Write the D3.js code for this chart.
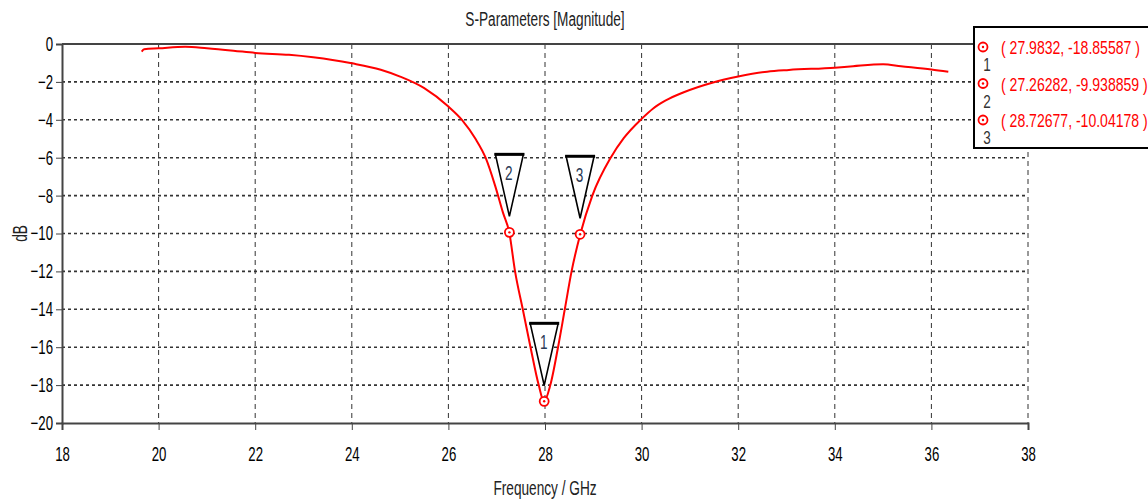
<!DOCTYPE html>
<html>
<head>
<meta charset="utf-8">
<script src="https://cdn.jsdelivr.net/npm/d3@7"></script>
<style>
  body { margin: 0; background: #fff; }
  svg { display: block; font-family: "Liberation Sans", Arial, sans-serif; }
</style>
</head>
<body>
<div class="chartDIV"></div>
<script>
// S11 magnitude curve
var freq = [19.65, 19.7, 20, 20.55, 21, 21.55, 22, 22.7, 23.2, 23.6, 24, 24.6, 25, 25.5, 26, 26.28, 26.56, 26.77,
            26.97, 27.13, 27.26, 27.38, 27.54, 27.7, 27.87, 27.98, 28.11, 28.27, 28.41, 28.55, 28.73, 28.98,
            29.36, 29.63, 30, 30.24, 30.5, 30.86, 31.48, 32, 32.6, 33.05, 34, 34.38, 35, 35.37, 36, 36.35];
var dB = [-0.4, -0.28, -0.23, -0.14, -0.22, -0.35, -0.47, -0.57, -0.7, -0.84, -1.02, -1.36, -1.72, -2.33, -3.3, -4.0, -5.0, -6.0,
          -7.5, -8.9, -9.94, -12, -14, -16, -18, -18.86, -18, -16, -14, -12, -10.04, -8,
          -6, -4.97, -3.95, -3.4, -2.98, -2.56, -2.03, -1.72, -1.46, -1.37, -1.25, -1.17, -1.07, -1.17, -1.34, -1.46];

// markers
var markerIds = ["1", "2", "3"];
var markerFreq = [27.9832, 27.26282, 28.72677];
var markerDb = [-18.85587, -9.938859, -10.04178];
var markerText = ["( 27.9832, -18.85587 )", "( 27.26282, -9.938859 )", "( 28.72677, -10.04178 )"];

// ticks
var xTicks = [18, 20, 22, 24, 26, 28, 30, 32, 34, 36, 38];
var yTicks = [0, -2, -4, -6, -8, -10, -12, -14, -16, -18, -20];

var width = 1148,
    height = 499,
    plotL = 62, plotR = 1028, plotT = 44, plotB = 423;

var svg = d3.select(".chartDIV").append("svg")
    .attr("width", width)
    .attr("height", height);

var x = d3.scaleLinear().domain([18, 38]).range([plotL, plotR]),
    y = d3.scaleLinear().domain([-20, 0]).range([plotB, plotT]);

var red = "#ff0000";

// the reference font is a tall narrow one: squeeze labels horizontally
function squeeze(sel, k) {
    sel.each(function() {
        var w = this.getComputedTextLength();
        if (w > 0) d3.select(this).attr("textLength", w * k).attr("lengthAdjust", "spacingAndGlyphs");
    });
}

// grid
svg.append("g").selectAll("line")
    .data(xTicks.slice(1))
    .enter().append("line")
    .attr("x1", d => x(d)).attr("x2", d => x(d))
    .attr("y1", plotT).attr("y2", plotB)
    .attr("stroke", "#333").attr("stroke-width", 1)
    .attr("stroke-dasharray", "5,4");

svg.append("g").selectAll("line")
    .data(yTicks.slice(1, -1))
    .enter().append("line")
    .attr("x1", plotL).attr("x2", plotR)
    .attr("y1", d => y(d)).attr("y2", d => y(d))
    .attr("stroke", "#333").attr("stroke-width", 1.6)
    .attr("stroke-dasharray", "3,3");

// frame top
svg.append("line")
    .attr("x1", plotL).attr("x2", plotR)
    .attr("y1", plotT).attr("y2", plotT)
    .attr("stroke", "#444").attr("stroke-width", 2);

// axes
var xAxis = svg.append("g")
    .attr("transform", "translate(0," + plotB + ")")
    .call(d3.axisBottom(x).tickValues(xTicks).tickSize(7).tickPadding(17).tickFormat(d3.format("d")));
var yAxis = svg.append("g")
    .attr("transform", "translate(" + plotL + ",0)")
    .call(d3.axisLeft(y).tickValues(yTicks).tickSize(6).tickPadding(3).tickFormat(d3.format("d")));

[xAxis, yAxis].forEach(function(a) {
    a.select(".domain").attr("stroke", "#444").attr("stroke-width", 2);
    a.selectAll(".tick line").attr("stroke", "#444");
    a.selectAll("text")
        .attr("fill", "#000")
        .style("font-size", "20px")
        .style("font-family", "'Liberation Sans', Arial, sans-serif")
        .call(squeeze, 0.66);
});

// titles
svg.append("text")
    .attr("x", (plotL + plotR) / 2).attr("y", 26)
    .attr("text-anchor", "middle")
    .attr("fill", "#222")
    .style("font-size", "19.5px")
    .text("S-Parameters [Magnitude]")
    .call(squeeze, 0.7);

svg.append("text")
    .attr("x", (plotL + plotR) / 2).attr("y", 495)
    .attr("text-anchor", "middle")
    .attr("fill", "#222")
    .style("font-size", "19.5px")
    .text("Frequency / GHz")
    .call(squeeze, 0.7);

svg.append("text")
    .attr("transform", "translate(27," + y(-10) + ") rotate(-90)")
    .attr("text-anchor", "middle")
    .attr("fill", "#222")
    .style("font-size", "19.5px")
    .text("dB")
    .call(squeeze, 0.7);

// curve
var points = freq.map(function(f, i) { return {f: f, v: dB[i]}; });
var line = d3.line()
    .curve(d3.curveMonotoneX)
    .x(d => x(d.f))
    .y(d => y(d.v));

svg.append("path")
    .datum(points)
    .attr("d", line)
    .attr("fill", "none")
    .attr("stroke", red)
    .attr("stroke-width", 2);

// marker triangles
var markers = markerIds.map(function(id, i) {
    return {id: id, f: markerFreq[i], v: markerDb[i], label: markerText[i]};
});

var tri = svg.append("g").selectAll("g")
    .data(markers)
    .enter().append("g")
    .attr("transform", d => "translate(" + x(d.f) + "," + (y(d.v) - 16) + ")");

tri.append("path")
    .attr("d", "M0,0 L-14,-62 L14,-62 Z")
    .attr("fill", "#fff")
    .attr("stroke", "#000")
    .attr("stroke-width", 1.6);
tri.append("line")
    .attr("x1", -15).attr("x2", 15)
    .attr("y1", -62).attr("y2", -62)
    .attr("stroke", "#000").attr("stroke-width", 3);
tri.append("text")
    .attr("y", -36)
    .attr("x", -0.5)
    .attr("text-anchor", "middle")
    .attr("fill", "#2b3a55")
    .style("font-size", "20px")
    .text(d => d.id)
    .call(squeeze, 0.68);

// marker circles on the curve
function markerIcon(sel) {
    sel.append("circle").attr("r", 4.5).attr("fill", "#fff").attr("stroke", red).attr("stroke-width", 1.8);
    sel.append("circle").attr("r", 1.2).attr("fill", red);
}
svg.append("g").selectAll("g")
    .data(markers)
    .enter().append("g")
    .attr("transform", d => "translate(" + x(d.f) + "," + y(d.v) + ")")
    .call(markerIcon);

// legend box
var legend = svg.append("g");
legend.append("rect")
    .attr("x", 974).attr("y", 27)
    .attr("width", 190).attr("height", 121)
    .attr("fill", "#fff")
    .attr("stroke", "#000").attr("stroke-width", 2);

var rows = legend.selectAll("g.row")
    .data(markers)
    .enter().append("g")
    .attr("class", "row")
    .attr("transform", (d, i) => "translate(983," + (47 + i * 36.5) + ")");

rows.append("g").call(markerIcon);
rows.append("text")
    .attr("x", 4).attr("y", 24)
    .attr("text-anchor", "middle")
    .attr("fill", "#333")
    .style("font-size", "18px")
    .text(d => d.id)
    .call(squeeze, 0.75);
rows.append("text")
    .attr("x", 18).attr("y", 7)
    .attr("fill", red)
    .style("font-size", "18.6px")
    .text(d => d.label)
    .call(squeeze, 0.755);
</script>
</body>
</html>
